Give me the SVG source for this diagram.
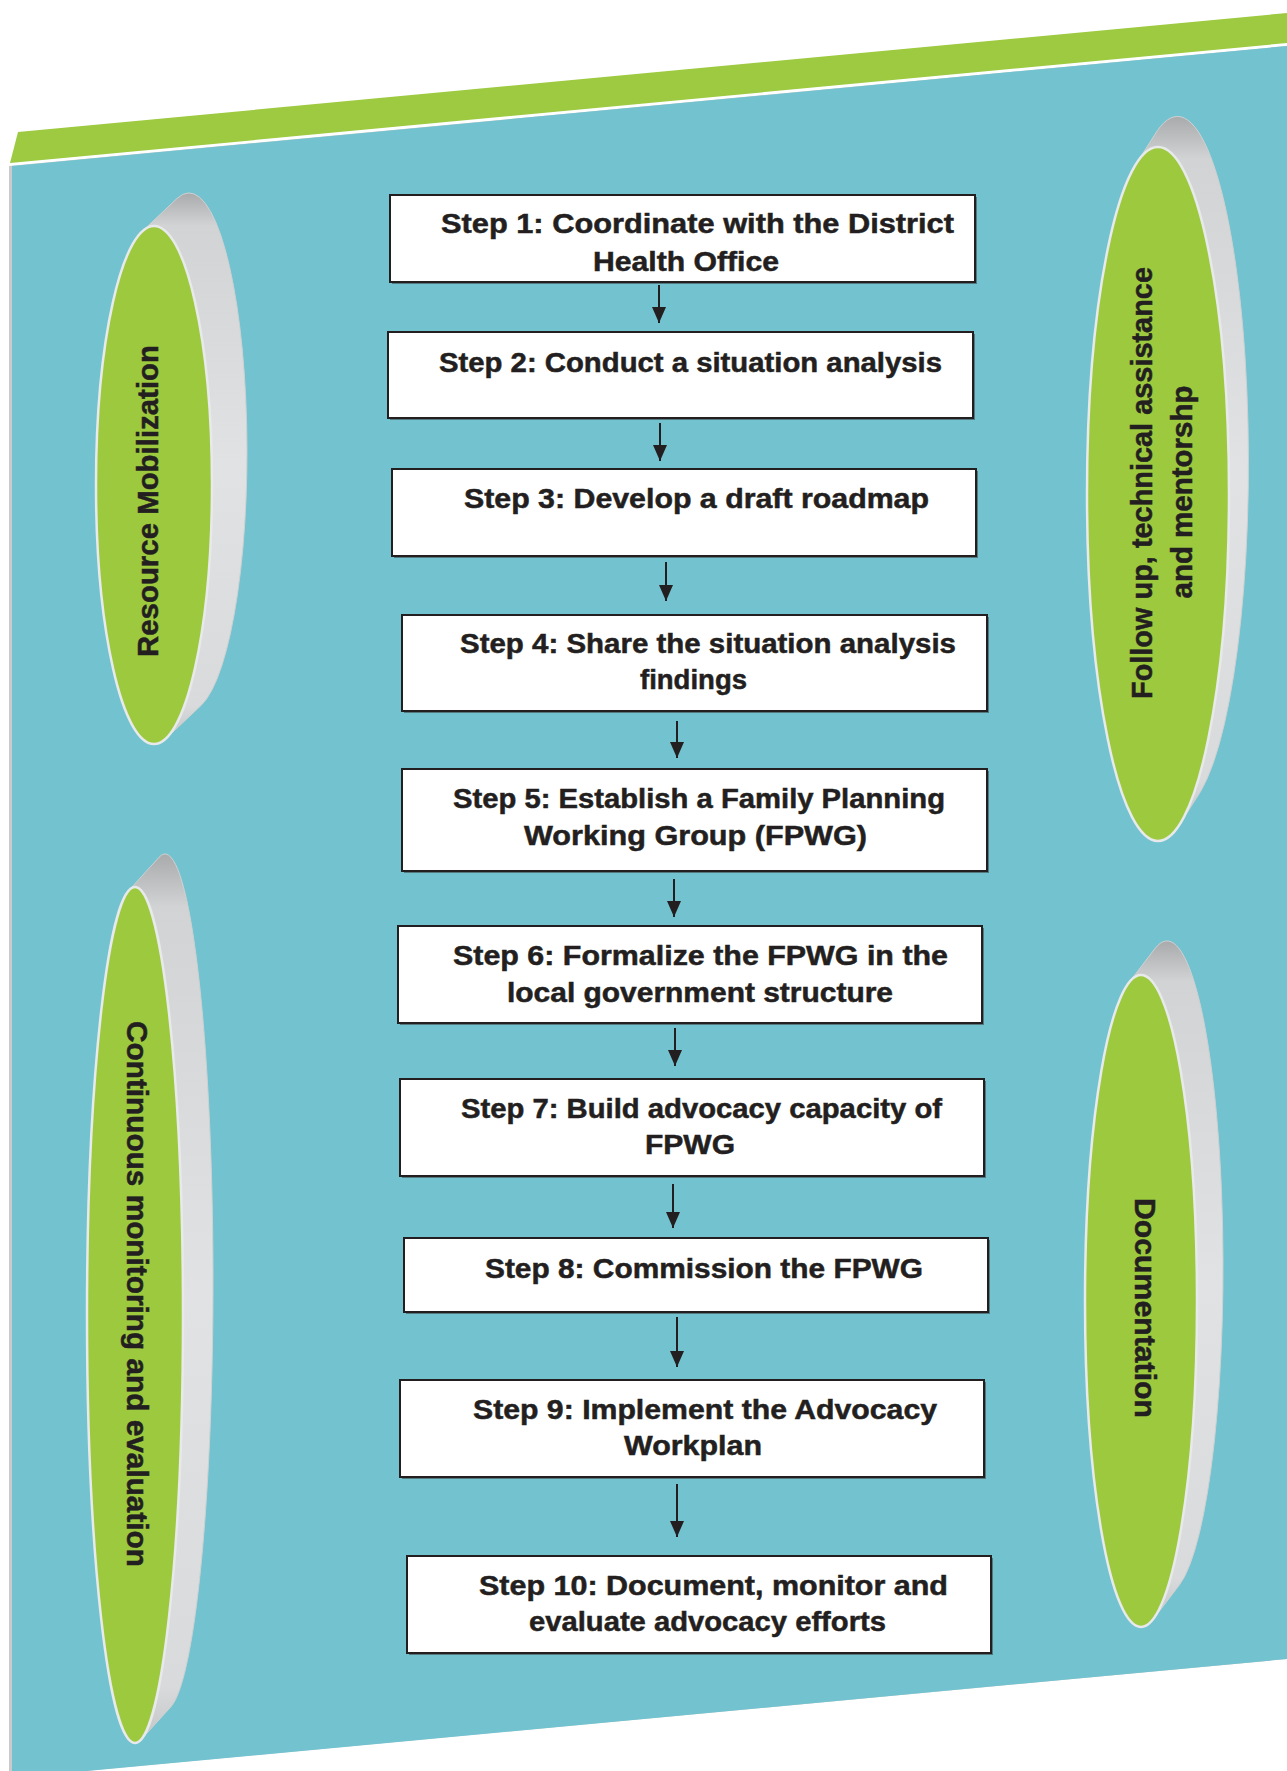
<svg xmlns="http://www.w3.org/2000/svg" width="1287" height="1771" viewBox="0 0 1287 1771">
<style>
.step{fill:#fff;stroke:#231f20;stroke-width:2}
.shadow{fill:#3a3a3a;opacity:.55}
.st{font-family:"Liberation Sans",Arial,sans-serif;font-weight:bold;font-size:27px;fill:#231f20;stroke:#231f20;stroke-width:0.5;text-anchor:middle}
.dt{font-family:"Liberation Sans",Arial,sans-serif;font-weight:bold;font-size:29.5px;fill:#231f20;stroke:#231f20;stroke-width:0.5;text-anchor:middle}
.face{fill:#9dc93f;stroke:#e8e9ea;stroke-width:2.5}
.side{fill:url(#sideGrad);stroke:#d0d1d2;stroke-width:1}
.conn line{stroke:#231f20;stroke-width:2}
</style>
<defs>
<linearGradient id="sideGrad" x1="0" y1="0" x2="0" y2="1">
<stop offset="0" stop-color="#a9aaac"/>
<stop offset="0.06" stop-color="#d2d3d4"/>
<stop offset="0.5" stop-color="#e1e2e3"/>
<stop offset="0.94" stop-color="#d9dadb"/>
<stop offset="1" stop-color="#c4c5c6"/>
</linearGradient>
<marker id="ah" markerUnits="userSpaceOnUse" markerWidth="16" markerHeight="14" viewBox="0 0 16 14" refX="16" refY="7" orient="auto">
<path d="M0,0 L16,7 L0,14 Z" fill="#231f20"/>
</marker>
</defs>

<!-- background -->
<g id="background">
<rect x="0" y="0" width="1287" height="1771" fill="#ffffff"/>
<polygon points="18,132 1287,13 1287,43 10,163" fill="#9dca40"/>
<polygon points="9,166 1287,46 1287,1659 9,1778" fill="#c9cacb"/>
<polygon points="12,166 1287,46 1287,1659 12,1778" fill="#72c3cf"/>
</g>

<!-- side discs -->
<g id="disc-resource">
<path class="side" d="M142,231.5 L177,198.5 A58,259 0 0 1 201,705.5 L166,738.5 A58,259 0 0 0 142,231.5 Z"/>
<ellipse class="face" cx="154" cy="485" rx="58" ry="259"/>
<text class="dt" transform="translate(158,501) rotate(-90)" textLength="312" lengthAdjust="spacingAndGlyphs">Resource Mobilization</text>
</g>

<g id="disc-followup">
<path class="side" d="M1136.3,163.7 L1157.3,130.7 A71,347 0 0 1 1200.7,791.3 L1179.7,824.3 A71,347 0 0 0 1136.3,163.7 Z"/>
<ellipse class="face" cx="1158" cy="494" rx="71" ry="347"/>
<text class="dt" transform="translate(1152,483) rotate(-90)" textLength="432" lengthAdjust="spacingAndGlyphs">Follow up, technical assistance</text>
<text class="dt" transform="translate(1192,492) rotate(-90)" textLength="213" lengthAdjust="spacingAndGlyphs">and mentorshp</text>
</g>

<g id="disc-monitoring">
<path class="side" d="M129.1,890.2 L159.1,857.2 A48,428 0 0 1 170.9,1706.8 L140.9,1739.8 A48,428 0 0 0 129.1,890.2 Z"/>
<ellipse class="face" cx="135" cy="1315" rx="48" ry="428"/>
<text class="dt" transform="translate(127,1294) rotate(90)" textLength="546" lengthAdjust="spacingAndGlyphs">Continuous monitoring and evaluation</text>
</g>

<g id="disc-documentation">
<path class="side" d="M1128.7,982.9 L1154.7,948.9 A56,326 0 0 1 1179.3,1585.1 L1153.3,1619.1 A56,326 0 0 0 1128.7,982.9 Z"/>
<ellipse class="face" cx="1141" cy="1301" rx="56" ry="326"/>
<text class="dt" transform="translate(1135,1308) rotate(90)" textLength="220" lengthAdjust="spacingAndGlyphs">Documentation</text>
</g>

<!-- connectors -->
<g id="connectors" class="conn">
<line x1="659" y1="285" x2="659" y2="323" marker-end="url(#ah)"/>
<line x1="660" y1="423" x2="660" y2="461" marker-end="url(#ah)"/>
<line x1="666" y1="562" x2="666" y2="601" marker-end="url(#ah)"/>
<line x1="677" y1="721" x2="677" y2="758" marker-end="url(#ah)"/>
<line x1="674" y1="879" x2="674" y2="917" marker-end="url(#ah)"/>
<line x1="675" y1="1028" x2="675" y2="1066" marker-end="url(#ah)"/>
<line x1="673" y1="1184" x2="673" y2="1228" marker-end="url(#ah)"/>
<line x1="677" y1="1317" x2="677" y2="1367" marker-end="url(#ah)"/>
<line x1="677" y1="1484" x2="677" y2="1537" marker-end="url(#ah)"/>
</g>

<!-- steps -->
<g id="step1">
<rect class="shadow" x="392" y="197" width="585" height="87"/>
<rect class="step" x="390" y="195" width="585" height="87"/>
<text class="st" x="697.5" y="233" textLength="513" lengthAdjust="spacingAndGlyphs">Step 1: Coordinate with the District</text>
<text class="st" x="686" y="271" textLength="186" lengthAdjust="spacingAndGlyphs">Health Office</text>
</g>
<g id="step2">
<rect class="shadow" x="390" y="334" width="585" height="86"/>
<rect class="step" x="388" y="332" width="585" height="86"/>
<text class="st" x="690.5" y="372" textLength="503" lengthAdjust="spacingAndGlyphs">Step 2: Conduct a situation analysis</text>
</g>
<g id="step3">
<rect class="shadow" x="394" y="471" width="584" height="87"/>
<rect class="step" x="392" y="469" width="584" height="87"/>
<text class="st" x="696.5" y="508" textLength="465" lengthAdjust="spacingAndGlyphs">Step 3: Develop a draft roadmap</text>
</g>
<g id="step4">
<rect class="shadow" x="404" y="617" width="585" height="96"/>
<rect class="step" x="402" y="615" width="585" height="96"/>
<text class="st" x="708" y="653" textLength="496" lengthAdjust="spacingAndGlyphs">Step 4: Share the situation analysis</text>
<text class="st" x="693.5" y="689" textLength="107" lengthAdjust="spacingAndGlyphs">findings</text>
</g>
<g id="step5">
<rect class="shadow" x="404" y="771" width="585" height="102"/>
<rect class="step" x="402" y="769" width="585" height="102"/>
<text class="st" x="699" y="808" textLength="492" lengthAdjust="spacingAndGlyphs">Step 5: Establish a Family Planning</text>
<text class="st" x="695.5" y="845" textLength="343" lengthAdjust="spacingAndGlyphs">Working Group (FPWG)</text>
</g>
<g id="step6">
<rect class="shadow" x="400" y="928" width="584" height="97"/>
<rect class="step" x="398" y="926" width="584" height="97"/>
<text class="st" x="700.5" y="965" textLength="495" lengthAdjust="spacingAndGlyphs">Step 6: Formalize the FPWG in the</text>
<text class="st" x="700" y="1002" textLength="386" lengthAdjust="spacingAndGlyphs">local government structure</text>
</g>
<g id="step7">
<rect class="shadow" x="402" y="1081" width="584" height="97"/>
<rect class="step" x="400" y="1079" width="584" height="97"/>
<text class="st" x="701.5" y="1118" textLength="481" lengthAdjust="spacingAndGlyphs">Step 7: Build advocacy capacity of</text>
<text class="st" x="690" y="1154" textLength="90" lengthAdjust="spacingAndGlyphs">FPWG</text>
</g>
<g id="step8">
<rect class="shadow" x="406" y="1240" width="584" height="74"/>
<rect class="step" x="404" y="1238" width="584" height="74"/>
<text class="st" x="704" y="1278" textLength="438" lengthAdjust="spacingAndGlyphs">Step 8: Commission the FPWG</text>
</g>
<g id="step9">
<rect class="shadow" x="402" y="1382" width="584" height="97"/>
<rect class="step" x="400" y="1380" width="584" height="97"/>
<text class="st" x="705" y="1419" textLength="464" lengthAdjust="spacingAndGlyphs">Step 9: Implement the Advocacy</text>
<text class="st" x="693" y="1455" textLength="138" lengthAdjust="spacingAndGlyphs">Workplan</text>
</g>
<g id="step10">
<rect class="shadow" x="409" y="1558" width="584" height="97"/>
<rect class="step" x="407" y="1556" width="584" height="97"/>
<text class="st" x="713.5" y="1595" textLength="469" lengthAdjust="spacingAndGlyphs">Step 10: Document, monitor and</text>
<text class="st" x="707.5" y="1631" textLength="357" lengthAdjust="spacingAndGlyphs">evaluate advocacy efforts</text>
</g>
</svg>
